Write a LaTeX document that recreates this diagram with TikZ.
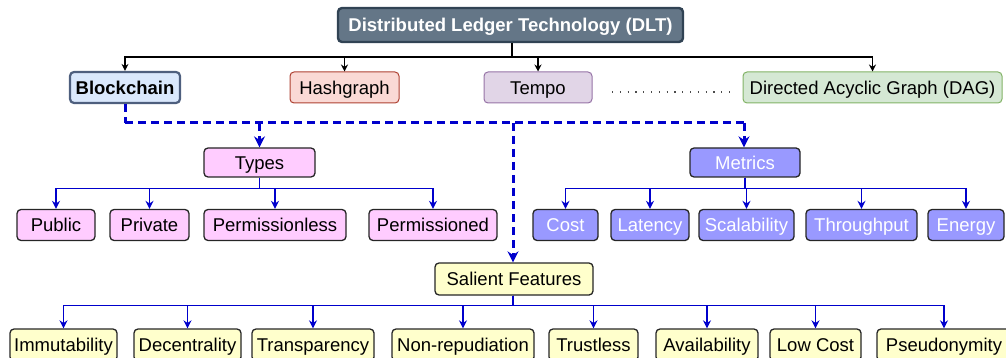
\documentclass[tikz,border=0pt]{standalone}
\usepackage{fontspec}
\setmainfont{Liberation Sans}
\usetikzlibrary{arrows.meta}
\definecolor{dltfill}{HTML}{647687}
\definecolor{dltdraw}{HTML}{314354}
\definecolor{bcfill}{HTML}{DAE8FC}
\definecolor{bcdraw}{HTML}{4E5F7E}
\definecolor{hgfill}{HTML}{FAD9D5}
\definecolor{hgdraw}{HTML}{AE4132}
\definecolor{tpfill}{HTML}{E1D5E7}
\definecolor{tpdraw}{HTML}{9673A6}
\definecolor{dagfill}{HTML}{D5E8D4}
\definecolor{dagdraw}{HTML}{82B366}
\definecolor{typefill}{HTML}{FFCCFF}
\definecolor{metfill}{HTML}{9999FF}
\definecolor{featfill}{HTML}{FFFFCC}
\definecolor{blu}{HTML}{0000CC}
\tikzset{
  box/.style={rectangle, rounded corners=4pt, draw=black!85, line width=1.3pt, inner sep=0pt, minimum height=31pt, text height=15pt, text depth=1.8pt, font=\fontsize{18.5}{20}\selectfont},
  dltbox/.style={box, fill=dltfill, draw=dltdraw, line width=2.4pt, text=white, font=\fontsize{18.5}{20}\selectfont\bfseries, minimum height=34pt},
  bcbox/.style={box, fill=bcfill, draw=bcdraw, line width=2.2pt, font=\fontsize{18.5}{20}\selectfont\bfseries},
  hgbox/.style={box, fill=hgfill, draw=hgdraw, line width=1pt},
  tpbox/.style={box, fill=tpfill, draw=tpdraw, line width=1pt},
  dagbox/.style={box, fill=dagfill, draw=dagdraw, line width=1pt},
  typebox/.style={box, fill=typefill},
  metbox/.style={box, fill=metfill, text=white},
  featbox/.style={box, fill=featfill},
  blk/.style={draw=black, line width=1.5pt, -{Stealth[length=7pt,width=7pt]}},
  bus/.style={draw=blu, line width=1.6pt, -{Stealth[length=8pt,width=8pt]}},
  dsh/.style={draw=blu, line width=3pt, dash pattern=on 8pt off 5pt},
  dsharr/.style={dsh, -{Stealth[length=11pt,width=11pt]}},
}
\begin{document}
\begin{tikzpicture}[x=1pt,y=-1pt]
\useasboundingbox (0,0) rectangle (1006,358);
\clip (0,0) rectangle (1006,358);
% level 0
\node[dltbox, minimum width=345pt] (dlt) at (510.5,25) {Distributed Ledger Technology (DLT)};
% level 1
\node[bcbox, minimum width=110pt] (bc) at (125,87.5) {Blockchain};
\node[hgbox, minimum width=109pt] (hg) at (344.5,87.5) {Hashgraph};
\node[tpbox, minimum width=108pt] (tp) at (538,87.5) {Tempo};
\node[dagbox, minimum width=259pt] (dag) at (872.5,87.5) {Directed Acyclic Graph (DAG)};
\coordinate (d1) at (612,92);
\coordinate (d2) at (732,92);
\draw[line width=1.2pt, black!70, dash pattern=on 1.2pt off 6.6pt] (d1) -- (d2);
% level 2
\node[typebox, minimum width=111pt, minimum height=29pt] (types) at (259.5,162.5) {Types};
\node[metbox, minimum width=110pt, minimum height=29pt] (metrics) at (745,162.5) {Metrics};
\node[featbox, minimum width=158pt, minimum height=32pt] (sal) at (514,279) {Salient Features};
% types children
\node[typebox, minimum width=78pt] (pub) at (56,225) {Public};
\node[typebox, minimum width=79pt] (priv) at (149.5,225) {Private};
\node[typebox, minimum width=142pt] (pless) at (275,225) {Permissionless};
\node[typebox, minimum width=128pt] (pned) at (433,225) {Permissioned};
% metrics children
\node[metbox, minimum width=65pt] (cost) at (565.5,225) {Cost};
\node[metbox, minimum width=78pt] (lat) at (650,225) {Latency};
\node[metbox, minimum width=95pt] (scal) at (746.5,225) {Scalability};
\node[metbox, minimum width=111pt] (thr) at (861.5,225) {Throughput};
\node[metbox, minimum width=76pt] (ene) at (966,225) {Energy};
% features
\node[featbox, minimum width=107pt, minimum height=32pt] (imm) at (63.5,345) {Immutability};
\node[featbox, minimum width=107pt, minimum height=32pt] (dec) at (187.5,345) {Decentrality};
\node[featbox, minimum width=122pt, minimum height=32pt] (tra) at (313,345) {Transparency};
\node[featbox, minimum width=142pt, minimum height=32pt] (non) at (463,345) {Non-repudiation};
\node[featbox, minimum width=89pt, minimum height=32pt] (tru) at (593.5,345) {Trustless};
\node[featbox, minimum width=102pt, minimum height=32pt] (ava) at (707,345) {Availability};
\node[featbox, minimum width=91pt, minimum height=32pt] (low) at (815.5,345) {Low Cost};
\node[featbox, minimum width=134pt, minimum height=32pt] (pse) at (944,345) {Pseudonymity};
% DLT connectors
\coordinate (dltbus) at (512,57);
\draw[line width=1.5pt] ([xshift=1.5pt]dlt.south) -- (dltbus);
\foreach \n in {bc,hg,tp,dag}{
  \draw[blk] (dltbus) -| (\n.north);
}
% dashed from blockchain
\coordinate (dbus) at (125,123);
\coordinate (dend) at (744,123);
\draw[dsh] (bc.south) -- (dbus);
\draw[dsh] (dbus) -- (dend);
\draw[dsharr] (dbus -| types.north) -- (types.north);
\draw[dsharr] (dend) -- (metrics.north -| dend);
\draw[dsharr] (dbus -| 513,0) -- (sal.north -| 513,0);
% types bus
\foreach \n in {pub,priv,pless,pned}{
  \draw[bus] (types.south) -- ++(0,11) -| (\n.north);
}
% metrics bus
\foreach \n in {cost,lat,scal,thr,ene}{
  \draw[bus] (metrics.south) -- ++(0,11) -| (\n.north);
}
% features bus
\foreach \n in {imm,dec,tra,non,tru,ava,low,pse}{
  \draw[bus] ([xshift=-1pt]sal.south) -- ++(0,10) -| (\n.north);
}
\end{tikzpicture}
\end{document}
